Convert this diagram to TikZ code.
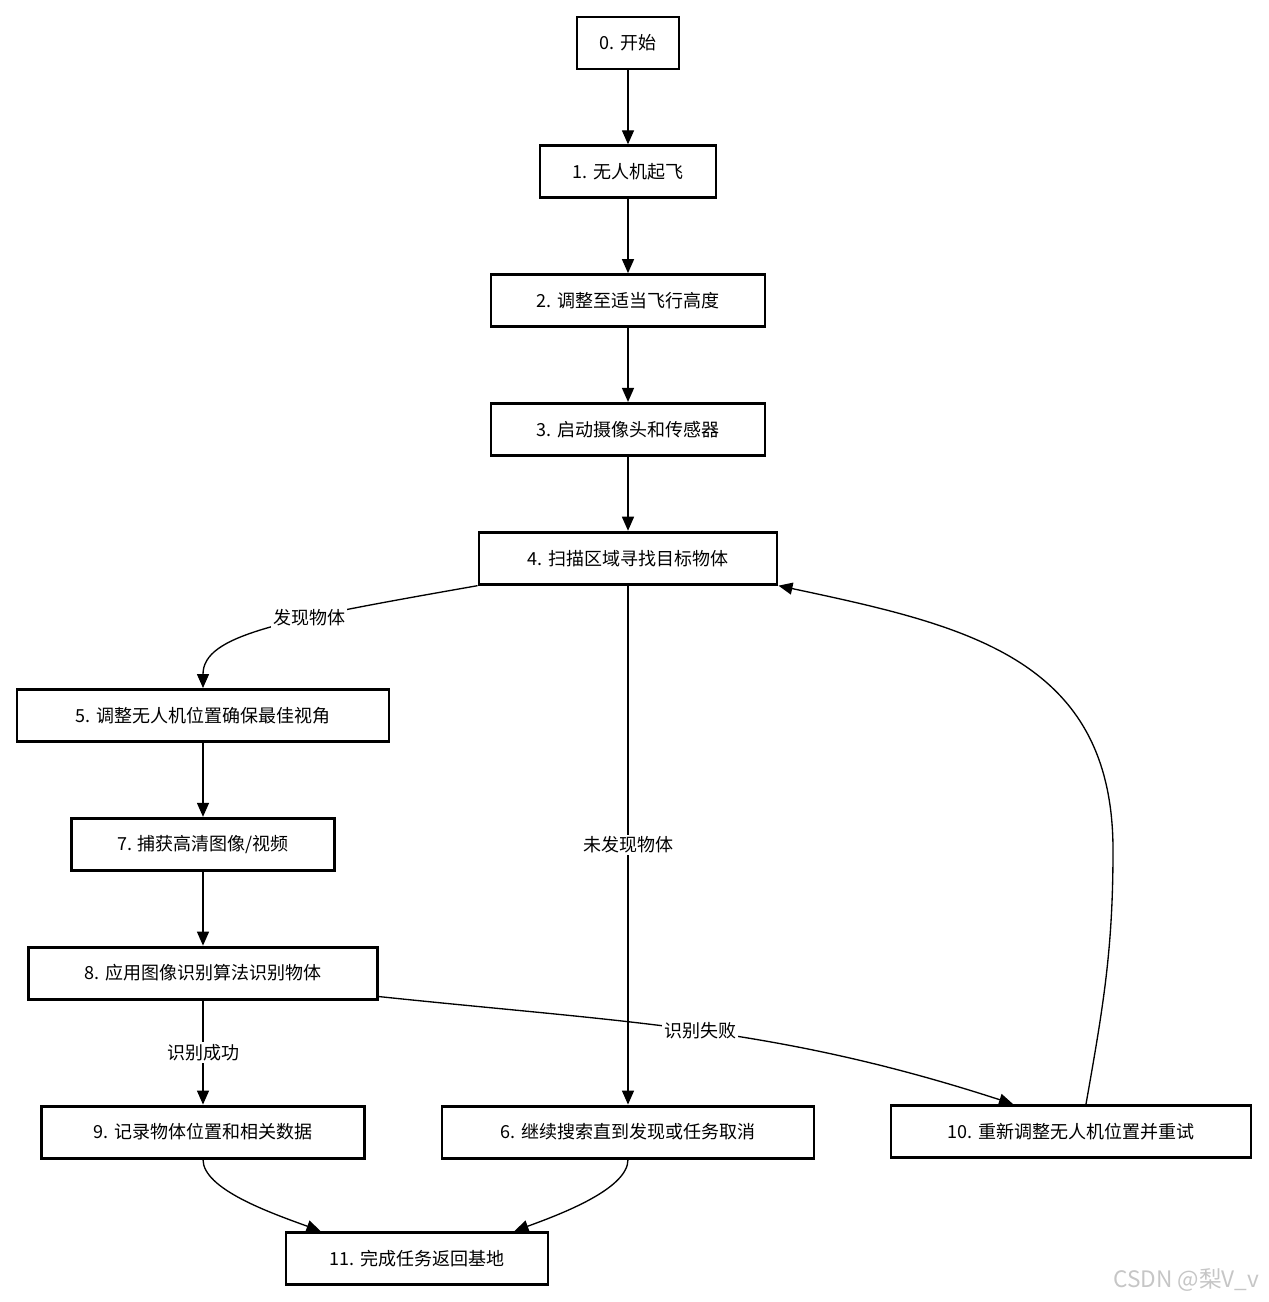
\documentclass[tikz,border=0pt]{standalone}
\usepackage{fontspec}
\setmainfont{Noto Sans CJK SC}
\usetikzlibrary{arrows.meta, positioning}

\begin{document}
\begin{tikzpicture}[x=0.75pt, y=-0.75pt,
    node distance=55.4pt,
    box/.style={draw, line width=2.2pt, minimum height=39pt, inner sep=0pt, align=center, fill=white, font=\fontsize{13.5}{16}\selectfont},
    arrow/.style={draw, line width=1pt, -{Triangle[length=10.5pt, width=9pt]}},
    lbl/.style={fill=white, inner sep=1.5pt, font=\fontsize{13.5}{16}\selectfont}
]
    \useasboundingbox (0,0) rectangle (1269,1302);

    % main column
    \node[box, minimum width=76.5pt] (start) at (628,43) {0. 开始};
    \node[box, minimum width=132pt, below=of start] (takeoff) {1. 无人机起飞};
    \node[box, minimum width=205.5pt, below=of takeoff] (height) {2. 调整至适当飞行高度};
    \node[box, minimum width=205.5pt, below=of height] (camera) {3. 启动摄像头和传感器};
    \node[box, minimum width=223.5pt, below=of camera] (scan) {4. 扫描区域寻找目标物体};

    % left column
    \node[box, minimum width=279pt] (adjust) at (203,715.5) {5. 调整无人机位置确保最佳视角};
    \node[box, minimum width=197.25pt, below=of adjust] (capture) {7. 捕获高清图像/视频};
    \node[box, minimum width=261.75pt, below=of capture] (recog) {8. 应用图像识别算法识别物体};
    \node[box, minimum width=242.25pt, below=78pt of recog] (record) {9. 记录物体位置和相关数据};

    % bottom row
    \node[box, minimum width=279pt] (search) at (scan |- record) {6. 继续搜索直到发现或任务取消};
    \node[box, minimum width=270pt] (retry) at (1071,1131.5) {10. 重新调整无人机位置并重试};
    \node[box, minimum width=196.5pt] (home) at (417,1258.5) {11. 完成任务返回基地};

    \node[text=gray!45, anchor=east, font=\fontsize{17}{20}\selectfont] (mark) at (1264,1280) {CSDN @梨V\_v};

    \coordinate (loop) at (1113,850);

    \draw[arrow] (start) -- (takeoff);
    \draw[arrow] (takeoff) -- (height);
    \draw[arrow] (height) -- (camera);
    \draw[arrow] (camera) -- (scan);
    \draw[arrow] (scan.south west) .. controls +(190:150pt) and +(90:40pt) .. node[lbl, pos=0.36] {发现物体} (adjust.north);
    \draw[arrow] (scan) -- node[lbl] {未发现物体} (search);
    \draw[arrow] (adjust) -- (capture);
    \draw[arrow] (capture) -- (recog);
    \draw[arrow] (recog) -- node[lbl] {识别成功} (record);
    \draw[arrow] ([yshift=3pt]recog.south east) to[out=-6, in=162] node[lbl, pos=0.5] {识别失败} ([xshift=-43.5pt]retry.north);
    \draw[arrow] ([xshift=11.25pt]retry.north) to[out=80, in=-90] (loop) to[out=90, in=-12, looseness=1.15] (scan.south east);
    \draw[arrow] (record.south) to[out=-90, in=160, out looseness=0.55] ([xshift=27pt]home.north west);
    \draw[arrow] (search.south) to[out=-90, in=20, out looseness=0.55] ([xshift=-26.25pt]home.north east);

\end{tikzpicture}
\end{document}
